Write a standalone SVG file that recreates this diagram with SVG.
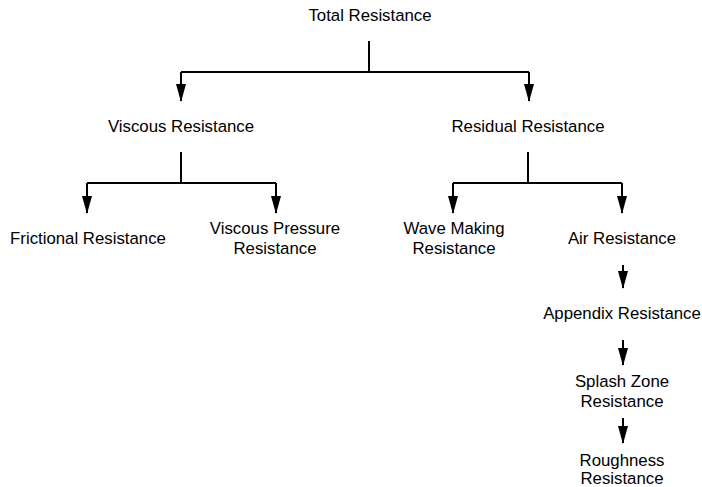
<svg xmlns="http://www.w3.org/2000/svg" width="702" height="487" viewBox="0 0 702 487">
<style>
text{font-family:"Liberation Sans",Arial,sans-serif;font-size:16.8px;fill:#000;text-anchor:middle}
.c{fill:none;stroke:#000;stroke-width:2}
</style>
<defs>
<marker id="ah" markerWidth="18" markerHeight="10" refX="17" refY="5" orient="auto" markerUnits="userSpaceOnUse" viewBox="0 0 18 10">
<path d="M0,0 L18,5 L0,10 Z" fill="#000"/>
</marker>
</defs>
<rect width="702" height="487" fill="#fff"/>
<g id="connectors">
<path class="c" d="M369,41 V72"/>
<path class="c" d="M181,72 H529"/>
<path class="c" d="M181,72 V101" marker-end="url(#ah)"/>
<path class="c" d="M529,72 V101" marker-end="url(#ah)"/>
<path class="c" d="M181,152 V183"/>
<path class="c" d="M87,183 H276"/>
<path class="c" d="M87,183 V213" marker-end="url(#ah)"/>
<path class="c" d="M276,183 V213" marker-end="url(#ah)"/>
<path class="c" d="M528,152 V183"/>
<path class="c" d="M453,183 H622"/>
<path class="c" d="M453,183 V213" marker-end="url(#ah)"/>
<path class="c" d="M622,183 V213" marker-end="url(#ah)"/>
<path class="c" d="M623,265 V288" marker-end="url(#ah)"/>
<path class="c" d="M623,340 V365" marker-end="url(#ah)"/>
<path class="c" d="M623,418 V443" marker-end="url(#ah)"/>
</g>
<g id="total"><text x="370" y="21">Total Resistance</text></g>
<g id="viscous"><text x="181" y="132">Viscous Resistance</text></g>
<g id="residual"><text x="528" y="132">Residual Resistance</text></g>
<g id="frictional"><text x="88" y="244">Frictional Resistance</text></g>
<g id="viscous-pressure"><text x="275" y="234">Viscous Pressure</text><text x="275" y="254">Resistance</text></g>
<g id="wave-making"><text x="454" y="234">Wave Making</text><text x="454" y="254">Resistance</text></g>
<g id="air"><text x="622" y="244">Air Resistance</text></g>
<g id="appendix"><text x="622" y="319">Appendix Resistance</text></g>
<g id="splash"><text x="622" y="387">Splash Zone</text><text x="622" y="407">Resistance</text></g>
<g id="roughness"><text x="622" y="466">Roughness</text><text x="622" y="484">Resistance</text></g>
</svg>
